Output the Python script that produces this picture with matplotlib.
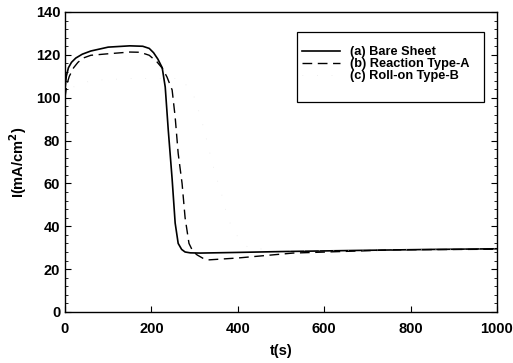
import matplotlib
matplotlib.use('Agg')
import matplotlib.pyplot as plt
from matplotlib.patches import Rectangle
from matplotlib.ticker import MultipleLocator

plt.rcParams['font.family'] = ['Liberation Sans', 'DejaVu Sans']
plt.rcParams['font.weight'] = 'bold'

# (a) bare sheet
t_a = [0, 3, 8, 15, 25, 40, 60, 100, 150, 180, 195, 205, 215, 225, 232, 239, 248, 255, 262, 270, 278, 290, 313, 400, 500, 700, 850, 1000]
i_a = [104, 110, 114, 116.5, 118.5, 120.3, 121.8, 123.6, 124.2, 124.0, 123.0, 121, 118, 114, 105, 85, 62, 41.5, 32, 29.2, 28, 27.6, 27.5, 27.8, 28.2, 28.8, 29.2, 29.5]

# (b) reaction type-A
t_b = [0, 4, 10, 20, 30, 42, 60, 100, 150, 174, 195, 213, 225, 236, 248, 255, 262, 271, 278, 287, 296, 306, 320, 331, 400, 528, 760, 1000]
i_b = [100, 106, 110, 114, 116.5, 118.5, 119.8, 120.5, 121.3, 121.2, 119.8, 116.7, 113.8, 109.7, 103.6, 91, 74, 60, 44, 32, 28.3, 26.6, 25.0, 24.3, 25.2, 27.5, 29.0, 29.3]

# (c) roll-on type-B (barely visible in the scan)
t_c = [0, 20, 60, 150, 270, 300, 317, 343, 364, 378, 400, 424, 500, 1000]
i_c = [92, 105, 108, 109, 109, 100, 89, 68, 54, 43, 35, 30, 28.5, 29.5]

fig = plt.figure(figsize=(5.13, 3.63), dpi=100)
ax = fig.add_axes([0.1267, 0.1405, 0.8421, 0.8265])

la, = ax.plot(t_a, i_a, color='black', lw=1.2, solid_joinstyle='round')
lb, = ax.plot(t_b, i_b, color='black', lw=1.0, dashes=(7, 4))
lc, = ax.plot(t_c, i_c, color='0.88', lw=0.5, dashes=(1, 20))

ax.set_xlim(0, 1000)
ax.set_ylim(0, 140)
ax.xaxis.set_major_locator(MultipleLocator(200))
ax.yaxis.set_major_locator(MultipleLocator(20))
ax.yaxis.set_minor_locator(MultipleLocator(4))
ax.tick_params(axis='both', which='both', direction='in', labelsize=10.5)
ax.tick_params(axis='y', which='both', right=True)
ax.tick_params(which='major', length=4)
ax.tick_params(which='minor', length=2.5)
ax.tick_params(axis='x', pad=7)
for s in ax.spines.values():
    s.set_linewidth(1.0)

ax.set_xlabel('t(s)', fontsize=10.5, fontweight='bold', labelpad=6)
ax.set_ylabel('I(mA/cm$^\\mathbf{2}$)', fontsize=10.5, fontweight='bold', labelpad=5)

# legend box drawn by hand (taller than the entries)
ax.add_patch(Rectangle((0.538, 0.70), 0.432, 0.233, transform=ax.transAxes,
                       fill=False, edgecolor='black', lw=0.9, zorder=5))
leg = ax.legend([la, lb, lc], ['(a) Bare Sheet', '(b) Reaction Type-A', '(c) Roll-on Type-B'],
                loc='upper left', bbox_to_anchor=(0.548, 0.885), frameon=False,
                fontsize=9.2, labelspacing=0.0, handlelength=3.0, handletextpad=0.8,
                borderpad=0, borderaxespad=0)

fig.savefig('out.png', dpi=100)
